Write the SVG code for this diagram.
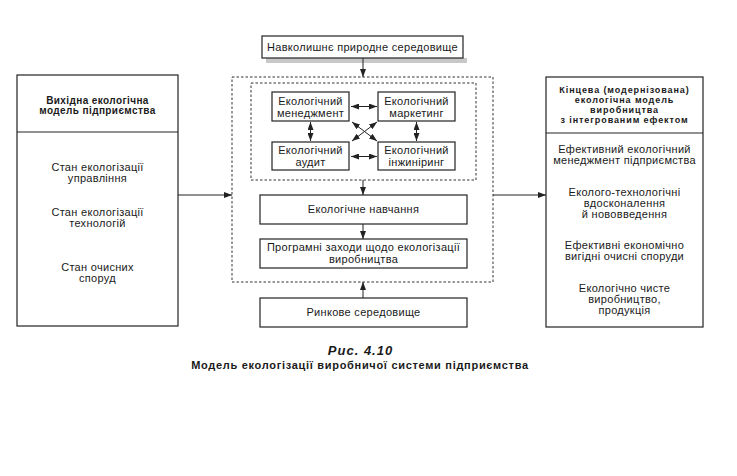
<svg xmlns="http://www.w3.org/2000/svg" width="737" height="476" viewBox="0 0 737 476">
<defs>
<style>
.box{fill:#fff;stroke:#222;stroke-width:1.2}
.dot{fill:none;stroke:#333;stroke-width:1;stroke-dasharray:2.5,2}
.t{font-family:"Liberation Sans",Arial,sans-serif;font-size:11px;letter-spacing:0.3px;fill:#1a1a1a;text-anchor:middle}
.h{font-family:"Liberation Sans",Arial,sans-serif;font-size:10px;letter-spacing:0.4px;font-weight:bold;fill:#1a1a1a;text-anchor:middle}
.h2{font-family:"Liberation Sans",Arial,sans-serif;font-size:9px;letter-spacing:0.9px;font-weight:bold;fill:#1a1a1a;text-anchor:middle}
.c{stroke:#222;stroke-width:1;fill:none}
</style>
<marker id="a" viewBox="0 0 8 6" refX="8" refY="3" markerWidth="8" markerHeight="6" orient="auto" markerUnits="userSpaceOnUse">
<path d="M0,0 L8,3 L0,6 Z" fill="#222"/>
</marker>
<marker id="s" viewBox="0 0 8 6" refX="0" refY="3" markerWidth="8" markerHeight="6" orient="auto" markerUnits="userSpaceOnUse">
<path d="M8,0 L0,3 L8,6 Z" fill="#222"/>
</marker>
</defs>
<rect width="737" height="476" fill="#fff"/>

<g id="frames">
<rect class="dot" x="232" y="77" width="261" height="205"/>
<rect class="dot" x="251" y="83" width="225" height="97"/>
</g>

<g id="left-model">
<rect class="box" x="17" y="75" width="161" height="251"/>
<line class="c" x1="17" y1="132" x2="178" y2="132"/>
<text class="h" x="97.5" y="103.5">Вихідна екологічна</text>
<text class="h" x="97.5" y="114">модель підприємства</text>
<text class="t" x="97.5" y="170.5">Стан екологізації</text>
<text class="t" x="97.5" y="181.5">управління</text>
<text class="t" x="97.5" y="216">Стан екологізації</text>
<text class="t" x="97.5" y="227">технологій</text>
<text class="t" x="97.5" y="271">Стан очисних</text>
<text class="t" x="97.5" y="282">споруд</text>
</g>

<g id="env">
<rect x="266" y="58" width="201" height="5" fill="#c8c8c8"/>
<rect class="box" x="262" y="36" width="201" height="22"/>
<text class="t" x="362.5" y="51">Навколишнє природне середовище</text>
</g>

<g id="mgmt">
<rect class="box" x="272" y="92" width="77" height="29"/>
<text class="t" x="310.5" y="104.5">Екологічний</text>
<text class="t" x="310.5" y="116.5">менеджмент</text>
</g>
<g id="mkt">
<rect class="box" x="378" y="92" width="77" height="29"/>
<text class="t" x="416.5" y="104.5">Екологічний</text>
<text class="t" x="416.5" y="116.5">маркетинг</text>
</g>
<g id="audit">
<rect class="box" x="272" y="142" width="77" height="28"/>
<text class="t" x="310.5" y="154">Екологічний</text>
<text class="t" x="310.5" y="166">аудит</text>
</g>
<g id="eng">
<rect class="box" x="378" y="142" width="77" height="28"/>
<text class="t" x="416.5" y="154">Екологічний</text>
<text class="t" x="416.5" y="166">інжиніринг</text>
</g>

<g id="edu">
<rect class="box" x="260" y="195" width="207" height="29"/>
<text class="t" x="363.5" y="213">Екологічне навчання</text>
</g>
<g id="prog">
<rect class="box" x="260" y="239" width="207" height="29"/>
<text class="t" x="363.5" y="251">Програмні заходи щодо екологізації</text>
<text class="t" x="363.5" y="262.5">виробництва</text>
</g>
<g id="market">
<rect class="box" x="260" y="298" width="207" height="29"/>
<text class="t" x="363.5" y="316">Ринкове середовище</text>
</g>

<g id="right-model">
<rect class="box" x="546" y="77" width="157" height="250"/>
<line class="c" x1="546" y1="133" x2="703" y2="133"/>
<text class="h2" x="624.5" y="93">Кінцева (модернізована)</text>
<text class="h2" x="624.5" y="103">екологічна модель</text>
<text class="h2" x="624.5" y="113">виробництва</text>
<text class="h2" x="624.5" y="123">з інтегрованим ефектом</text>
<text class="t" x="624.5" y="153">Ефективний екологічний</text>
<text class="t" x="624.5" y="164">менеджмент підприємства</text>
<text class="t" x="624.5" y="196">Еколого-технологічні</text>
<text class="t" x="624.5" y="207">вдосконалення</text>
<text class="t" x="624.5" y="218">й нововведення</text>
<text class="t" x="624.5" y="249">Ефективні економічно</text>
<text class="t" x="624.5" y="260">вигідні очисні споруди</text>
<text class="t" x="624.5" y="292">Екологічно чисте</text>
<text class="t" x="624.5" y="303">виробництво,</text>
<text class="t" x="624.5" y="314">продукція</text>
</g>

<g id="connectors">
<line class="c" x1="178" y1="195" x2="232" y2="195" marker-end="url(#a)"/>
<line class="c" x1="493" y1="195" x2="546" y2="195" marker-end="url(#a)"/>
<line class="c" x1="363" y1="58" x2="363" y2="77" marker-end="url(#a)"/>
<line class="c" x1="363" y1="180" x2="363" y2="195" marker-end="url(#a)"/>
<line class="c" x1="363" y1="224" x2="363" y2="239" marker-end="url(#a)"/>
<line class="c" x1="363" y1="298" x2="363" y2="282" marker-end="url(#a)"/>
<line class="c" x1="351" y1="106.5" x2="377" y2="106.5" marker-start="url(#s)" marker-end="url(#a)"/>
<line class="c" x1="351" y1="156.5" x2="377" y2="156.5" marker-start="url(#s)" marker-end="url(#a)"/>
<line class="c" x1="310.5" y1="122" x2="310.5" y2="141" marker-start="url(#s)" marker-end="url(#a)"/>
<line class="c" x1="416.5" y1="122" x2="416.5" y2="141" marker-start="url(#s)" marker-end="url(#a)"/>
<line class="c" x1="352" y1="122" x2="377" y2="141" marker-start="url(#s)" marker-end="url(#a)"/>
<line class="c" x1="377" y1="122" x2="352" y2="141" marker-start="url(#s)" marker-end="url(#a)"/>
</g>

<g id="caption">
<text x="360.5" y="355" style="font-family:'Liberation Sans',Arial,sans-serif;font-size:13px;letter-spacing:1px;font-weight:bold;font-style:italic;fill:#1a1a1a;text-anchor:middle">Рис. 4.10</text>
<text x="360" y="369" style="font-family:'Liberation Sans',Arial,sans-serif;font-size:11px;letter-spacing:0.7px;font-weight:bold;fill:#1a1a1a;text-anchor:middle">Модель екологізації виробничої системи підприємства</text>
</g>
</svg>
